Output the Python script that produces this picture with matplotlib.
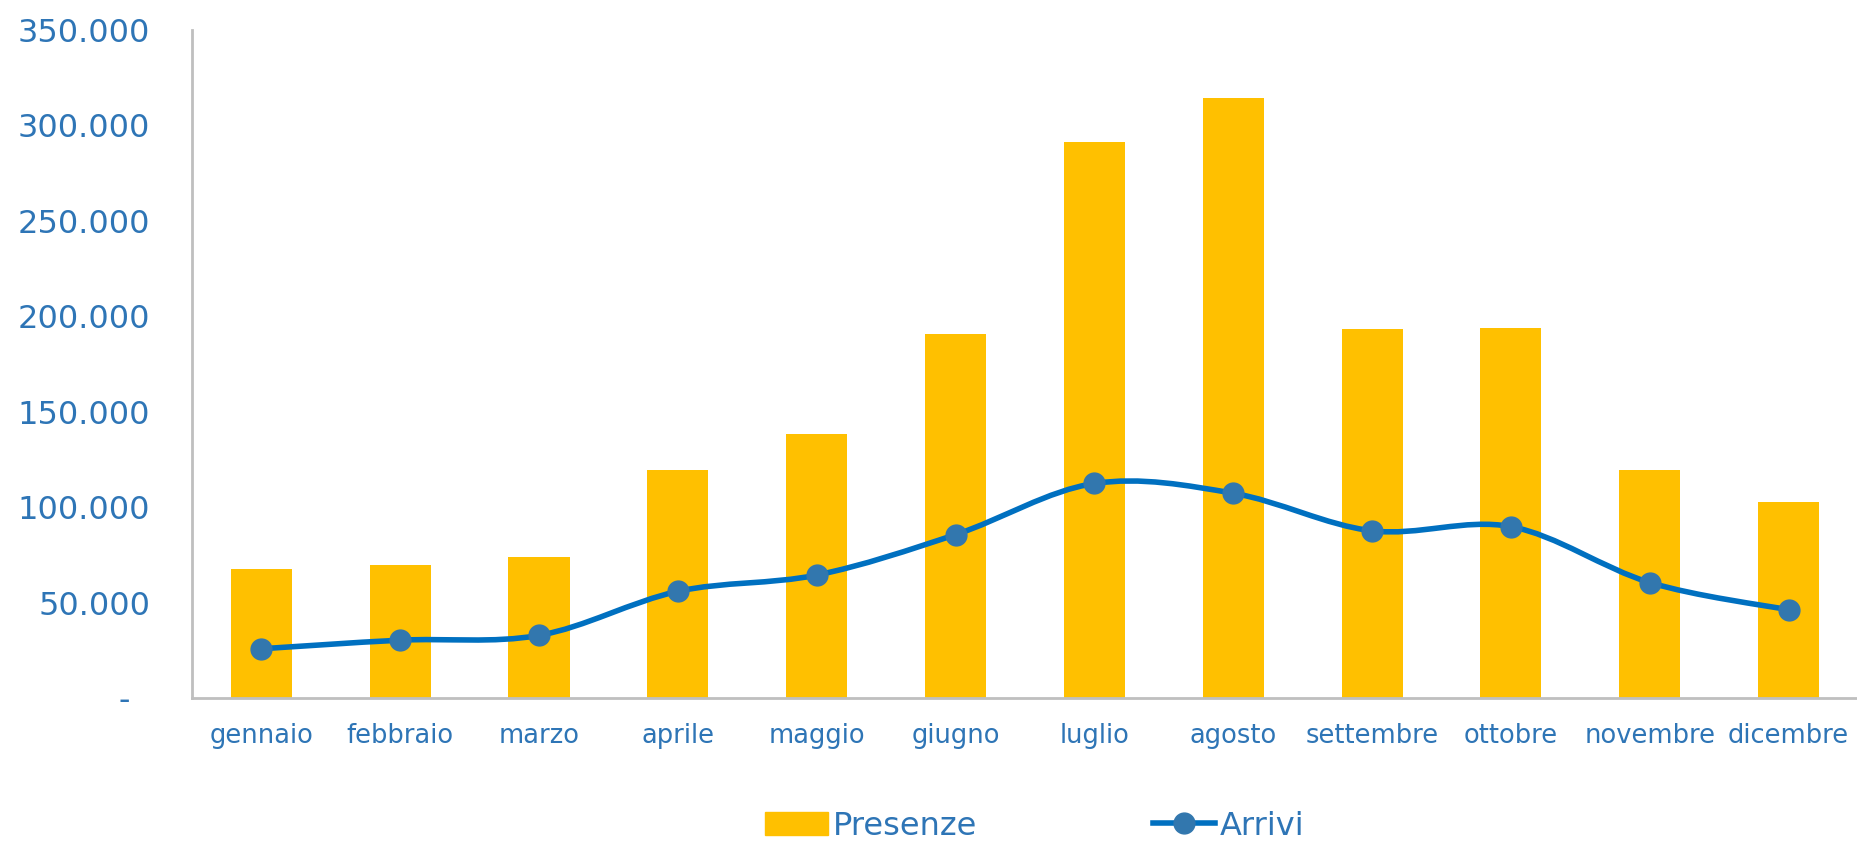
import numpy as np
from matplotlib import pyplot as plt
from matplotlib.path import Path
from matplotlib.patches import PathPatch, Patch
from matplotlib.lines import Line2D
from matplotlib.ticker import FuncFormatter

mesi = ['gennaio', 'febbraio', 'marzo', 'aprile', 'maggio', 'giugno',
        'luglio', 'agosto', 'settembre', 'ottobre', 'novembre', 'dicembre']
presenze = [67400, 69700, 73900, 119500, 138400, 190500,
            291300, 314500, 193500, 193800, 119600, 102700]
arrivi = [25800, 30300, 32800, 55900, 64400, 85600,
          112400, 107300, 87600, 89800, 60500, 46200]

c_bar = '#FFC000'
c_line = '#0070C0'
c_mark = '#3277AE'
c_text = '#2E75B6'

plt.rcParams['font.family'] = ['DejaVu Sans']

fig = plt.figure(figsize=(18.58, 8.43), dpi=100)
ax = fig.add_axes([0.1033, 0.172, 0.8967, 0.7924])

x = np.arange(len(mesi))
ax.bar(x, presenze, width=0.44, color=c_bar, zorder=2)

# linea smussata (bezier tipo excel)
pts = np.column_stack([x, arrivi]).astype(float)
ext = np.vstack([pts[0], pts, pts[-1]])
verts = [tuple(pts[0])]
codes = [Path.MOVETO]
for i in range(len(pts) - 1):
    p0, p1, p2, p3 = ext[i], ext[i + 1], ext[i + 2], ext[i + 3]
    c1 = p1 + (p2 - p0) / 6
    c2 = p2 - (p3 - p1) / 6
    verts += [tuple(c1), tuple(c2), tuple(p2)]
    codes += [Path.CURVE4] * 3
ax.add_patch(PathPatch(Path(verts, codes), facecolor='none', edgecolor=c_line,
                       lw=4, capstyle='round', zorder=3))
ax.plot(x, arrivi, ls='none', marker='o', ms=15, color=c_mark, zorder=4)

ax.set_xlim(-0.5, len(mesi) - 0.5)
ax.set_ylim(0, 350000)
ax.set_yticks(np.arange(0, 350001, 50000))
ax.yaxis.set_major_formatter(FuncFormatter(
    lambda v, p: '-  ' if v == 0 else f'{int(v):,}'.replace(',', '.')))
ax.set_xticks(x)
ax.set_xticklabels(mesi)
ax.tick_params(axis='y', length=0, pad=30, labelsize=23, labelcolor=c_text)
ax.tick_params(axis='x', length=0, pad=18, labelsize=18.5, labelcolor=c_text)

for s in ['top', 'right']:
    ax.spines[s].set_visible(False)
for s in ['left', 'bottom']:
    ax.spines[s].set_color('#BFBFBF')
    ax.spines[s].set_linewidth(2)

handles = [Patch(color=c_bar),
           Line2D([0], [0], color=c_line, lw=4, marker='o', ms=15,
                  markerfacecolor=c_mark, markeredgecolor=c_mark)]
fig.legend(handles, ['Presenze', 'Arrivi'], loc='center', bbox_to_anchor=(0.557, 0.02),
           ncol=2, frameon=False, fontsize=23, labelcolor=c_text,
           handlelength=1.95, handleheight=0.75, handletextpad=0.15, columnspacing=5.5)

plt.savefig('out.png')
